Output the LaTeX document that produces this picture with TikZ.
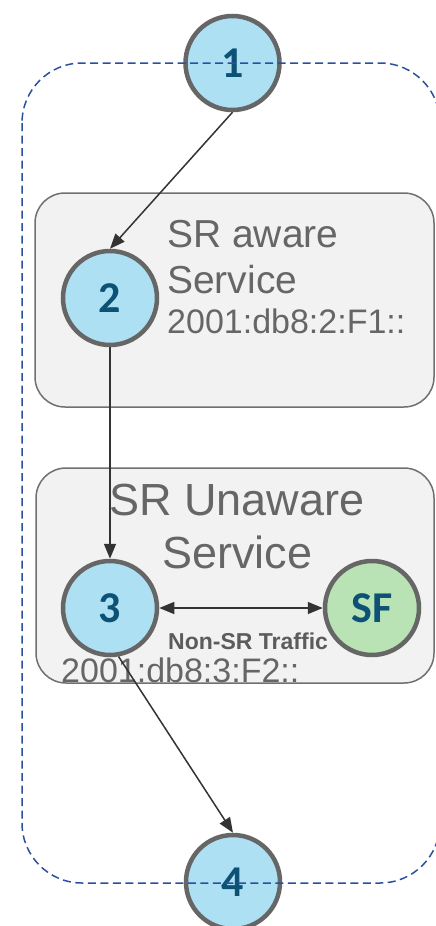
\documentclass[tikz,border=0pt]{standalone}
\usepackage{fontspec}
\setmainfont{Liberation Sans}
\newfontfamily\numfont{Carlito}
\usetikzlibrary{arrows.meta}
\definecolor{nodefill}{HTML}{AEE0F3}
\definecolor{sffill}{HTML}{B9E2B5}
\definecolor{ringgray}{HTML}{666666}
\definecolor{numcol}{HTML}{0D5275}
\definecolor{boxfill}{HTML}{F2F2F2}
\definecolor{boxline}{HTML}{707070}
\definecolor{txtgray}{HTML}{666666}
\definecolor{dashblue}{HTML}{2B4F9E}
\definecolor{conn}{HTML}{333333}
\tikzset{
  x=1pt, y=-1pt,
  hop/.style={circle, draw=ringgray, line width=4.5pt, fill=nodefill, minimum size=94pt, inner sep=0pt,
    font=\numfont\bfseries\fontsize{44}{44}\selectfont, text=numcol},
  sfnode/.style={hop, fill=sffill},
  svcbox/.style={draw=boxline, line width=1.5pt, fill=boxfill, rounded corners=30pt},
  bigtxt/.style={text=txtgray, inner sep=0pt, font=\fontsize{39}{39}\selectfont},
  hugetxt/.style={text=txtgray, inner sep=0pt, font=\fontsize{45}{45}\selectfont},
  addrtxt/.style={text=txtgray, inner sep=0pt, font=\fontsize{34}{34}\selectfont},
  smalltxt/.style={text=txtgray!90!black, inner sep=0pt, font=\bfseries\fontsize{23}{23}\selectfont},
  link/.style={draw=conn, line width=1.5pt, -{Triangle[length=15pt,width=12pt]}},
  dlink/.style={draw=conn, line width=1.5pt, {Triangle[length=15pt,width=12pt]}-{Triangle[length=15pt,width=12pt]}},
  srdomain/.style={draw=dashblue, line width=1.5pt, dash pattern=on 8pt off 4.5pt, rounded corners=60pt}
}
\begin{document}
\begin{tikzpicture}
\useasboundingbox (0,0) rectangle (436,926);
% service boxes
\path[svcbox] (35,193) rectangle (434,407);
\path[svcbox] (36,468) rectangle (434,683);
% texts
\node[bigtxt, anchor=base west] (t1) at (167,247) {SR aware};
\node[bigtxt, anchor=base west] (t2) at (167,293) {Service};
\node[addrtxt, anchor=base west] (a1) at (167,333) {2001:db8:2:F1::};
\node[hugetxt, anchor=base] (t3) at (237,515) {SR Unaware};
\node[hugetxt, anchor=base] (t4) at (237.5,568) {Service};
\node[smalltxt, anchor=base west] (lt) at (168,649) {Non-SR Traffic};
\node[addrtxt, anchor=base west] (a2) at (61,682) {2001:db8:3:F2::};
% nodes
\node[hop] (n1) at (232.5,63) {1};
\node[hop] (n2) at (110,298) {2};
\node[hop] (n3) at (110,608) {3};
\node[sfnode] (sf) at (372,608) {SF};
\node[hop] (n4) at (233,882) {4};
% domain (drawn above nodes)
\draw[srdomain] (22,63) rectangle (440,883);
% connectors
\draw[link] (n1.south) -- (n2.north);
\draw[link] (n2.south) -- (n3.north);
\draw[dlink] (n3.east) -- (sf.west);
\draw[link] (n3.-80) -- (n4.north);
\end{tikzpicture}
\end{document}
